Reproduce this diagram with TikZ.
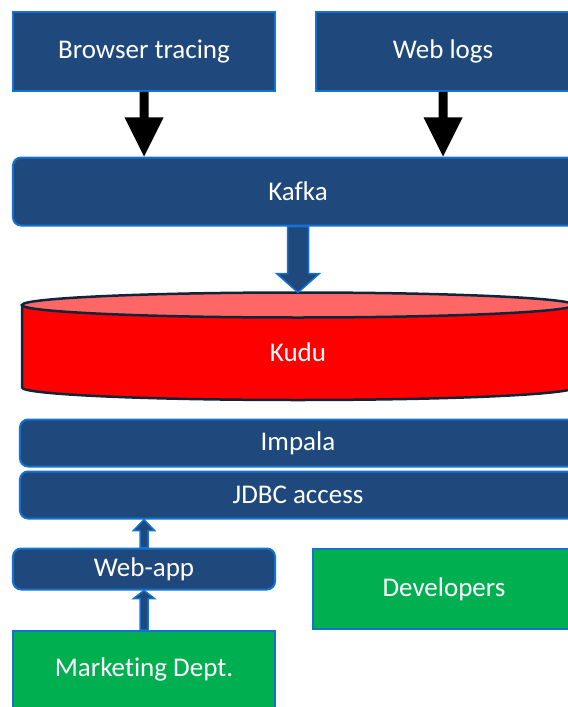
\documentclass[tikz,border=0pt]{standalone}
\usepackage{fontspec}
\setmainfont[Ligatures={NoCommon}]{Carlito}
\usetikzlibrary{calc}
\definecolor{navy}{RGB}{31,73,125}
\definecolor{edgeblue}{RGB}{20,115,210}
\definecolor{grn}{RGB}{0,176,80}
\definecolor{kred}{RGB}{255,0,0}
\definecolor{ktop}{RGB}{255,102,102}
\definecolor{kline}{RGB}{16,37,58}
\newcommand\myvarrow[6]{\path[#1] ($(#2)+(-#4,0)$) -- ($(#3)+(-#4,#6)$) -- ($(#3)+(-#5,#6)$) -- (#3) -- ($(#3)+(#5,#6)$) -- ($(#3)+(#4,#6)$) -- ($(#2)+(#4,0)$) -- cycle;}
\begin{document}
\begin{tikzpicture}[x=1bp,y=-1bp,
  box/.style={draw=edgeblue,line width=2bp,text=white,inner sep=0pt,
    font=\fontsize{27bp}{30bp}\selectfont},
  bluebox/.style={box,fill=navy},
  roundbox/.style={box,fill=navy,rounded corners=8bp},
  greenbox/.style={box,fill=grn},
  blackarrow/.style={fill=black},
  bluearrow/.style={fill=navy,draw=edgeblue,line width=1.5bp,line join=miter}]
\clip (0,0) rectangle (568,707);
\node[bluebox,minimum width=262bp,minimum height=79bp] (bt) at (144,51.5) {Browser tracing};
\node[bluebox,minimum width=254bp,minimum height=79bp] (wl) at (443,51.5) {Web logs};
\node[roundbox,minimum width=570bp,minimum height=68bp] (kafka) at (298,191.5) {Kafka};
% Kudu cylinder
\fill[kred] (22,305) -- (22,387.5) arc[start angle=180,end angle=0,x radius=276,y radius=12.5] -- (574,305) -- cycle;
\draw[kline,line width=2.5bp] (22,305) -- (22,387.5) arc[start angle=180,end angle=0,x radius=276,y radius=12.5] -- (574,305);
\draw[kline,line width=2.5bp,fill=ktop] (298,305) ellipse[x radius=276,y radius=12.5];
\node[text=white,font=\fontsize{27bp}{30bp}\selectfont] (kudu) at (298,352) {Kudu};
\coordinate (kudutop) at (298,292.5);
\node[roundbox,minimum width=556bp,minimum height=47bp] (impala) at (298,443) {Impala};
\node[roundbox,minimum width=556bp,minimum height=47bp] (jdbc) at (298,495) {JDBC access};
\node[roundbox,minimum width=262bp,minimum height=41bp] (webapp) at (144,569) {Web-app};
\node[greenbox,minimum width=262bp,minimum height=80bp] (dev) at (444,589) {Developers};
\node[greenbox,minimum width=262bp,minimum height=77bp] (mkt) at (144,669.5) {Marketing Dept.};
% arrows
\coordinate (t1) at (kafka.north -| bt.south);
\coordinate (t2) at (kafka.north -| wl.south);
\myvarrow{blackarrow}{bt.south}{t1}{4.5}{19.5}{-39}
\myvarrow{blackarrow}{wl.south}{t2}{4.5}{19.5}{-39}
\myvarrow{bluearrow}{kafka.south}{kudutop}{10.5}{21.5}{-19}
\coordinate (t3) at (jdbc.south -| webapp.north);
\myvarrow{bluearrow}{webapp.north}{t3}{4}{10.5}{11}
\coordinate (t4) at (webapp.south -| mkt.north);
\myvarrow{bluearrow}{mkt.north}{t4}{4}{10.5}{8}
\end{tikzpicture}
\end{document}
